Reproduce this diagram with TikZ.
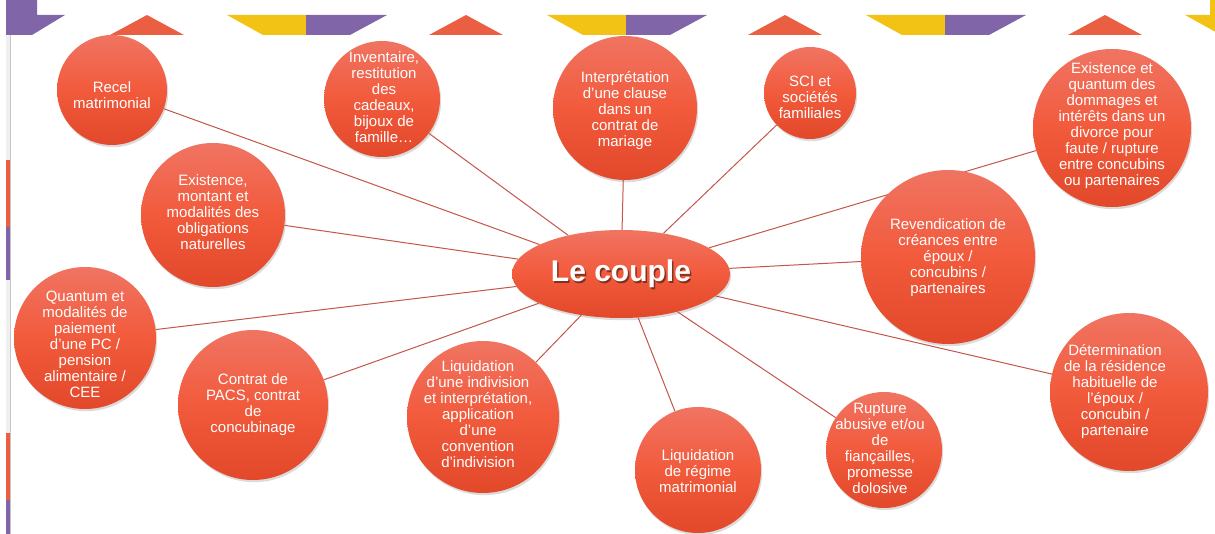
\documentclass[tikz,border=0pt]{standalone}
\usepackage{fontspec}
\setmainfont{Liberation Sans}
\usetikzlibrary{shapes.geometric,shadows}
\definecolor{ppl}{RGB}{128,102,168}
\definecolor{ylw}{RGB}{242,195,20}
\definecolor{tri}{RGB}{234,94,65}
\definecolor{linkc}{RGB}{196,86,74}
\definecolor{bubtop}{RGB}{240,116,98}
\definecolor{bubmid}{RGB}{242,90,60}
\definecolor{bubbot}{RGB}{226,72,42}
\pgfdeclarelayer{bgzero}
\pgfdeclarelayer{background}
\pgfsetlayers{bgzero,background,main}
\tikzset{
  bub/.style={circle, draw=none, inner sep=0pt, top color=bubtop, bottom color=bubbot, middle color=bubmid,
    drop shadow={opacity=0.28, shadow xshift=1.2pt, shadow yshift=-2.2pt}},
  btxt/.style={text=white, align=center, inner sep=0pt, font=\fontsize{15}{16}\selectfont},
  link/.style={draw=linkc, line width=1pt},
  bigtxt/.style={inner sep=0pt, font=\bfseries\fontsize{30}{30}\selectfont},
}
\begin{document}
\begin{tikzpicture}[x=1pt,y=-1pt]
\useasboundingbox (0,0) rectangle (1215,534);
\begin{pgfonlayer}{bgzero}
\fill[white] (0,0) rectangle (1215,534);
\end{pgfonlayer}
% left strip
\fill[gray!12] (6,35) rectangle (10,534);
\fill[tri] (6,160) rectangle (10,227);
\fill[ppl] (6,227) rectangle (10,280);
\fill[tri] (6,433) rectangle (10,500);
\fill[ppl] (6,500) rectangle (10,534);
\draw[gray!45, line width=0.8pt] (10.4,35) -- (10.4,534);
% top decorations
\fill[ppl] (6,0) -- (37,0) -- (37,15) -- (65,15) -- (32,35) -- (6,35) -- cycle;
\foreach \a in {147,466,785,1105} {
  \fill[tri] (\a,15) -- (\a+37,35) -- (\a-37,35) -- cycle;
}
\foreach \b in {227,547,866,1185} {
  \fill[ylw] (\b,15) -- (\b+79,15) -- (\b+79,35) -- (\b+36,35) -- cycle;
  \fill[ppl] (\b+79,15) -- (\b+160,15) -- (\b+123,35) -- (\b+79,35) -- cycle;
}
\fill[ylw] (1210,0) rectangle (1215,15);

% circles
\node[bub, minimum size=110pt] (c1) at (112,90) {};
\node[bub, minimum size=116pt] (c2) at (382,99) {};
\node[bub, minimum size=144pt] (c3) at (625,108) {};
\node[bub, minimum size=92pt] (c4) at (810,93) {};
\node[bub, minimum size=158pt] (c5) at (1112,128) {};
\node[bub, minimum size=144pt] (c6) at (213,215) {};
\node[bub, minimum size=174pt] (c7) at (948,257) {};
\node[bub, minimum size=142pt] (c9) at (85,338) {};
\node[bub, minimum size=150pt] (c10) at (253,405) {};
\node[bub, minimum size=152pt] (c11) at (483,417) {};
\node[bub, minimum size=126pt] (c12) at (698,470) {};
\node[bub, minimum size=116pt] (c13) at (884,450) {};
\node[bub, minimum size=158pt] (c14) at (1129,392) {};
\node[ellipse, draw=none, inner sep=0pt, minimum width=218pt, minimum height=88pt,
  top color=bubtop, bottom color=bubbot, middle color=bubmid,
  drop shadow={opacity=0.28, shadow xshift=1.2pt, shadow yshift=-2.2pt}] (lc) at (621,274) {};

% texts
\node[btxt] (t1) at (112,95) {Recel\\matrimonial};
\node[btxt] (t2) at (384,97) {Inventaire,\\restitution\\des\\cadeaux,\\bijoux de\\famille…};
\node[btxt] (t3) at (625,111) {Interprétation\\d’une clause\\dans un\\contrat de\\mariage};
\node[btxt] (t4) at (810,97) {SCI et\\sociétés\\familiales};
\node[btxt] (t5) at (1112,126) {Existence et\\quantum des\\dommages et\\intérêts dans un\\divorce pour\\faute / rupture\\entre concubins\\ou partenaires};
\node[btxt] (t6) at (213,212) {Existence,\\montant et\\modalités des\\obligations\\naturelles};
\node[btxt] (t7) at (948,258) {Revendication de\\créances entre\\époux /\\concubins /\\partenaires};
\node[btxt] (t9) at (85,344) {Quantum et\\modalités de\\paiement\\d’une PC /\\pension\\alimentaire /\\CEE};
\node[btxt] (t10) at (253,405) {Contrat de\\PACS, contrat\\de\\concubinage};
\node[btxt] (t11) at (478,414) {Liquidation\\d’une indivision\\et interprétation,\\application\\d’une\\convention\\d’indivision};
\node[btxt] (t12) at (698,471) {Liquidation\\de régime\\matrimonial};
\node[btxt] (t13) at (880,448) {Rupture\\abusive et/ou\\de\\fiançailles,\\promesse\\dolosive};
\node[btxt] (t14) at (1115,392) {Détermination\\de la résidence\\habituelle de\\l’époux /\\concubin /\\partenaire};
\node[bigtxt, text=black, opacity=0.45] (lcs) at (622.5,276) {Le couple};
\node[bigtxt, text=white] (lct) at (621,274) {Le couple};

% connectors
\begin{pgfonlayer}{background}
\foreach \i in {1,2,3,4,5,6,7,9,10,11,12,13,14} {
  \draw[link] (c\i) -- (lc);
}
\end{pgfonlayer}
\end{tikzpicture}
\end{document}
